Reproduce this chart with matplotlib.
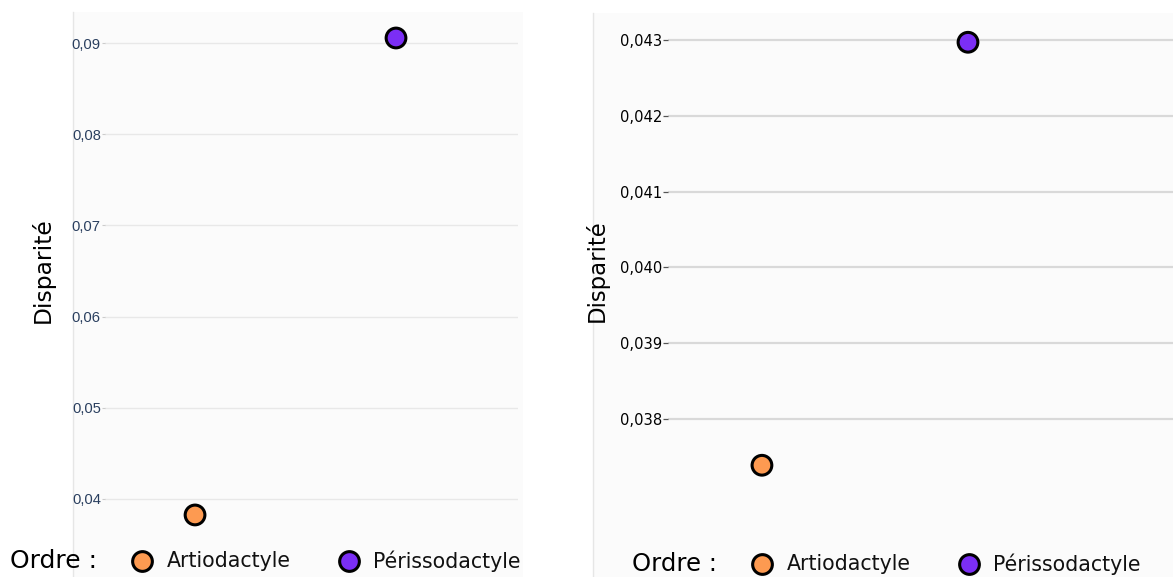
import matplotlib.pyplot as plt
from matplotlib.patches import Rectangle
from matplotlib.lines import Line2D

# data
orders = ['Artiodactyle', 'Périssodactyle']
order_colors = ['#fd9a51', '#7b2ef5']
left_values = [0.03825, 0.09055]
right_values = [0.03739, 0.04297]
left_ticks = [0.04, 0.05, 0.06, 0.07, 0.08, 0.09]
right_ticks = [0.038, 0.039, 0.040, 0.041, 0.042, 0.043]
y_title = 'Disparité'
legend_title = 'Ordre :'

W, H = 1173, 577
fig = plt.figure(figsize=(W / 100, H / 100), dpi=100)
fig.patch.set_facecolor('white')


def fx(px):
    return px / W


def fy(py):
    return 1 - py / H


def panel(x0, x1, y0):
    # light background with a thin left edge, kept under the axes
    fig.patches.append(Rectangle((fx(x0), 0), fx(x1) - fx(x0), fy(y0),
                                 transform=fig.transFigure, facecolor='#fbfbfb',
                                 edgecolor='none', zorder=-2))
    fig.lines.append(Line2D([fx(x0), fx(x0)], [0, fy(y0)], transform=fig.transFigure,
                            color='#e6e6e6', lw=1, zorder=-1))


def make_axes(x0, x1, y0, y1):
    ax = fig.add_axes([fx(x0), fy(y1), fx(x1) - fx(x0), fy(y0) - fy(y1)])
    ax.set_facecolor('none')
    for s in ax.spines.values():
        s.set_visible(False)
    ax.set_xticks([])
    ax.set_axisbelow(True)
    return ax


def fmt(v, nd):
    return f'{v:.{nd}f}'.replace('.', ',')


def legend(x_title, x_marks, x_texts, y, title_size, item_size):
    fig.text(fx(x_title), fy(y), legend_title, fontsize=title_size, family='DejaVu Sans',
             va='center', ha='left', color='black')
    for name, col, xm, xt in zip(orders, order_colors, x_marks, x_texts):
        fig.lines.append(Line2D([fx(xm)], [fy(y)], transform=fig.transFigure,
                                marker='o', ms=14.2, mew=2.2, mec='black', mfc=col,
                                ls='none', zorder=5))
        fig.text(fx(xt), fy(y), name, fontsize=item_size, family='DejaVu Sans',
                 va='center', ha='left', color='#111111')


# left panel
panel(73, 523, 12)
ax1 = make_axes(105, 518, 12, 540)
ax1.set_xlim(-0.448, 1.607)
ax1.set_ylim(0.035504, 0.0934)
ax1.yaxis.grid(True, color='#e8e8e8', lw=1)
ax1.set_yticks(left_ticks)
ax1.set_yticklabels([fmt(v, 2) for v in left_ticks], family='Liberation Sans',
                    fontsize=10.6, color='#2a3f5f')
ax1.tick_params(axis='y', length=2.5, width=0.8, color='#cccccc', pad=0.5)
ax1.scatter(range(len(orders)), left_values, s=14.2 ** 2, c=order_colors,
            edgecolors='black', linewidths=2.2, zorder=3, clip_on=False)
fig.text(fx(43), fy(270), y_title, rotation=90, fontsize=16.8, family='DejaVu Sans',
         va='center', ha='center')
legend(10, [142, 349], [167, 373], 561, 18.0, 14.8)

# right panel
panel(593, 1173, 13)
ax2 = make_axes(668, 1173, 13, 540)
ax2.set_xlim(-0.456, 1.995)
ax2.set_ylim(0.036404, 0.043356)
ax2.yaxis.grid(True, color='#d9d9d9', lw=1.6)
ax2.set_yticks(right_ticks)
ax2.set_yticklabels([fmt(v, 3) for v in right_ticks], family='DejaVu Sans',
                    fontsize=10.6, color='black')
ax2.tick_params(axis='y', length=3.5, width=0.9, color='#555555', pad=0.5)
ax2.scatter(range(len(orders)), right_values, s=14.2 ** 2, c=order_colors,
            edgecolors='black', linewidths=2.2, zorder=3, clip_on=False)
fig.text(fx(597), fy(271), y_title, rotation=90, fontsize=16.4, family='DejaVu Sans',
         va='center', ha='center')
legend(632, [762, 969], [787, 993], 564, 17.5, 14.8)

fig.savefig('out.png', dpi=100)
